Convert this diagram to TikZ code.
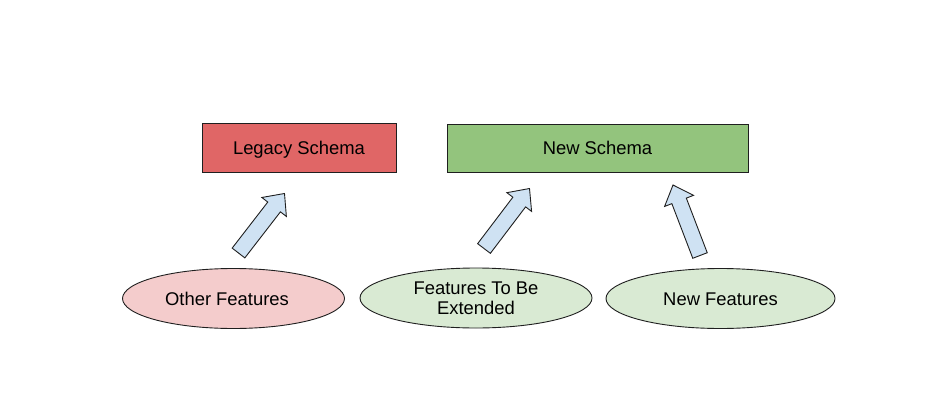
\documentclass[tikz,border=0pt]{standalone}
\usepackage{fontspec}
\setmainfont{Liberation Sans}
\usetikzlibrary{calc,shapes.geometric}

\definecolor{legacyred}{HTML}{E06666}
\definecolor{newgreen}{HTML}{93C47D}
\definecolor{featpink}{HTML}{F4CCCC}
\definecolor{featgreen}{HTML}{D9EAD3}
\definecolor{arrowblue}{HTML}{CFE2F3}
\definecolor{edge}{HTML}{1F1F1F}

\tikzset{
  label font/.style={font=\fontsize{18.4}{20}\selectfont},
  oneline/.style={text height=13.2pt, text depth=0pt},
  schemabox/.style={draw=edge, line width=0.9pt, inner sep=0pt, label font, oneline},
  feature/.style={ellipse, draw=edge, line width=0.9pt, inner sep=0pt,
    minimum height=60pt, align=center, label font},
  blockarrow/.style={draw=edge, line width=0.9pt, fill=arrowblue, line join=miter}
}

% block arrow from #1 (tail centre) to #2 (tip); #3 shaft width, #4 head width
\newcommand\blockarrowdraw[4]{%
  \coordinate (hb) at ($(#2)!17pt!(#1)$);
  \draw[blockarrow]
    ($(#1)!#3/2!90:(#2)$) -- ($(hb)!#3/2!90:(#2)$) -- ($(hb)!#4/2!90:(#2)$)
    -- (#2) -- ($(hb)!#4/2!-90:(#2)$) -- ($(hb)!#3/2!-90:(#2)$)
    -- ($(#1)!#3/2!-90:(#2)$) -- cycle;
}

\begin{document}
\begin{tikzpicture}[x=1pt, y=-1pt]
  \useasboundingbox (0,0) rectangle (941,404);

  % schemas
  \node[schemabox, fill=legacyred, minimum width=194pt, minimum height=49pt]
    (legacy) at (299,147.5) {Legacy Schema};
  \node[schemabox, fill=newgreen, minimum width=301pt, minimum height=48pt]
    (new) at (597.5,148) {New Schema};

  % feature sets
  \node[feature, oneline, fill=featpink, minimum width=222pt] (other) at (233.5,298.5) {Other Features\kern13pt};
  \node[feature, fill=featgreen, minimum width=232pt] (extended) at (476,298) {Features To Be\\Extended};
  \node[feature, oneline, fill=featgreen, minimum width=229pt] (newfeat) at (720.5,298.5) {New Features};

  % arrows
  \coordinate (a1t) at (238.5,253);
  \coordinate (a1h) at (284.5,193.5);
  \blockarrowdraw{a1t}{a1h}{16pt}{31pt}
  \coordinate (a2t) at (484,248.5);
  \coordinate (a2h) at (529.5,188.5);
  \blockarrowdraw{a2t}{a2h}{16pt}{31pt}
  \coordinate (a3t) at (700,255.5);
  \coordinate (a3h) at (673,185);
  \blockarrowdraw{a3t}{a3h}{15.5pt}{31pt}
\end{tikzpicture}
\end{document}
